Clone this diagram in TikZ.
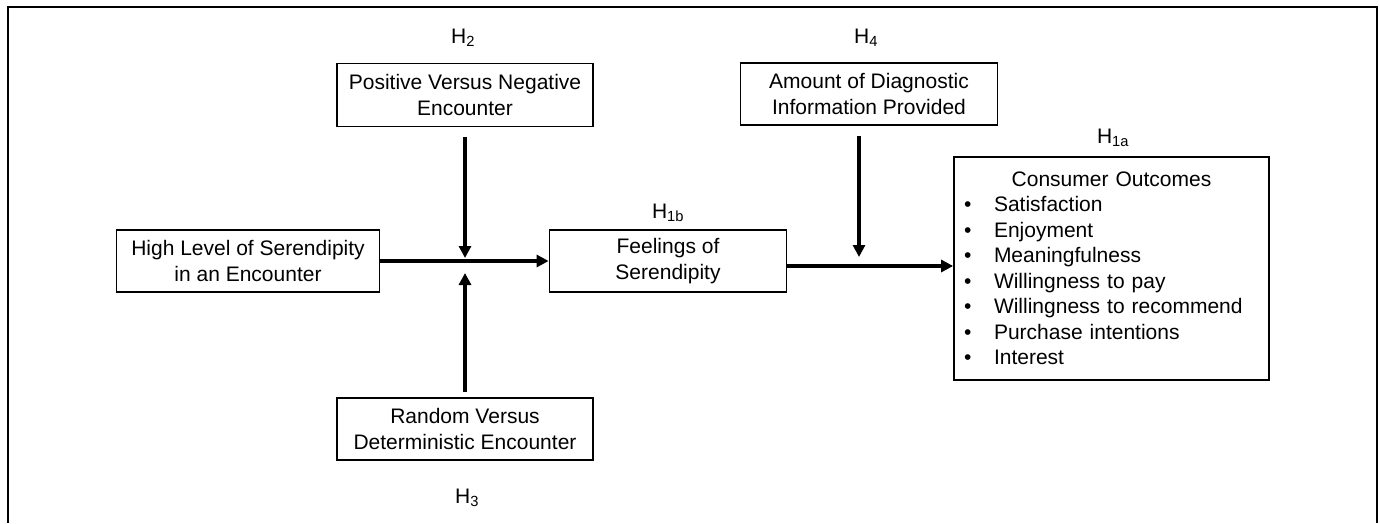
\documentclass[tikz,border=0pt]{standalone}
\usepackage{fontspec}
\setmainfont{Liberation Sans}
\usetikzlibrary{arrows.meta}

\begin{document}
\begin{tikzpicture}[x=1pt,y=1pt,
        box/.style={draw, line width=1.8pt, align=center, inner sep=0pt,
            font=\fontsize{21}{25.5}\selectfont},
        hyp/.style={inner sep=0pt, font=\fontsize{21}{25.5}\selectfont},
        arr/.style={line width=3.4pt, -{Triangle[length=12pt,width=12pt]}}]
        % Canvas and the outer frame (open at the bottom)
        \useasboundingbox (0,0) rectangle (1380,523);
        \draw[line width=2.5pt] (8,0) |- (1377,516) -- (1377,0);

        % Main path: encounter -> feelings -> outcomes
        \node[box, minimum width=263, minimum height=62] (high) at (248,262) {High Level of Serendipity\\in an Encounter};
        \node[box, minimum width=237, minimum height=62] (feel) at (668,262) {Feelings of\\Serendipity};
        \node[box, minimum width=315, minimum height=223, text width=295, inner xsep=10pt, align=left] (cons) at (1111.5,254.5)
            {\makebox[\linewidth]{Consumer Outcomes}\\
             \makebox[30pt][l]{\textbullet}Satisfaction\\
             \makebox[30pt][l]{\textbullet}Enjoyment\\
             \makebox[30pt][l]{\textbullet}Meaningfulness\\
             \makebox[30pt][l]{\textbullet}Willingness to pay\\
             \makebox[30pt][l]{\textbullet}Willingness to recommend\\
             \makebox[30pt][l]{\textbullet}Purchase intentions\\
             \makebox[30pt][l]{\textbullet}Interest};

        % Moderators
        \node[box, minimum width=256, minimum height=63] (pos) at (465,428) {Positive Versus Negative\\Encounter};
        \node[box, minimum width=256, minimum height=62] (rand) at (465,94) {Random Versus\\Deterministic Encounter};
        \node[box, minimum width=257, minimum height=62] (amt) at (869,429) {Amount of Diagnostic\\Information Provided};

        % Hypothesis labels
        \node[hyp] (h2) at (463,485) {H\textsubscript{2}};
        \node[hyp] (h3) at (467,25) {H\textsubscript{3}};
        \node[hyp] (h4) at (866,485) {H\textsubscript{4}};
        \node[hyp] (h1b) at (668,310) {H\textsubscript{1b}};
        \node[hyp] (h1a) at (1113,385) {H\textsubscript{1a}};

        % Where the moderators meet the paths
        \coordinate (m1) at (465,262);
        \coordinate (m2) at (859,257);

        % Arrows
        \draw[arr] (high.east) -- (feel.west);
        \draw[arr] (feel.east |- m2) -- (cons.west |- m2);
        \draw[arr] ([yshift=-10pt]pos.south) -- ([yshift=3pt]m1);
        \draw[arr] ([yshift=5pt]rand.north) -- ([yshift=-12pt]m1);
        \draw[arr] ([yshift=-10pt]amt.south -| m2) -- ([yshift=9pt]m2);
    \end{tikzpicture}
\end{document}
